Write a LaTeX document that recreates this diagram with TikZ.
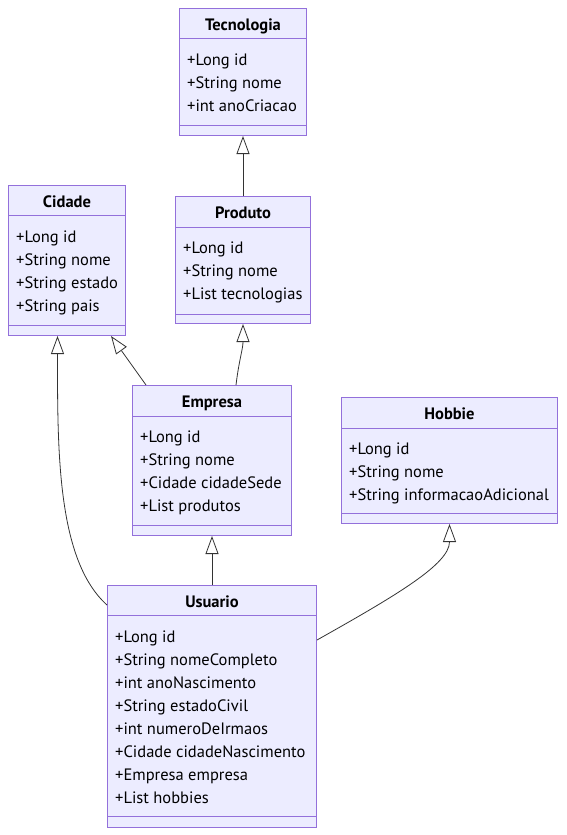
\documentclass[tikz,border=0pt]{standalone}
\usepackage{fontspec}
\setmainfont{PT Sans}
\usetikzlibrary{arrows.meta,calc}

\definecolor{umlfill}{HTML}{ECECFF}
\definecolor{umlborder}{HTML}{9370DB}
\definecolor{umlline}{HTML}{333333}

\tikzset{
  classbox/.style={draw=umlborder, fill=umlfill, line width=1pt, anchor=north west, inner sep=0pt},
  divider/.style={draw=umlborder, line width=1pt},
  classtitle/.style={anchor=base, inner sep=0pt, font=\fontsize{16.5}{18}\selectfont\bfseries},
  attr/.style={anchor=base west, inner sep=0pt, font=\fontsize{16.5}{18}\selectfont},
  inherit/.style={draw=umlline, line width=0.8pt, -{Triangle[open, length=18pt, width=13pt, fill=white]}}
}

\begin{document}
\begin{tikzpicture}[x=1pt, y=-1pt]
\useasboundingbox (0,0) rectangle (566,835);

% Tecnologia
\node[classbox, minimum width=127pt, minimum height=127pt] (tecnologia) at (179,8) {};
\draw[divider] ([yshift=-30pt]tecnologia.north west) -- ([yshift=-30pt]tecnologia.north east);
\draw[divider] ([yshift=11pt]tecnologia.south west) -- ([yshift=11pt]tecnologia.south east);
\node[classtitle] (tecnologia-title) at ([yshift=-22.5pt]tecnologia.north) {Tecnologia};
\foreach \a [count=\i] in {+Long id, +String nome, +int anoCriacao}
  \node[attr] (tecnologia-\i) at ([xshift=8pt, yshift=-34.5pt-23pt*\i]tecnologia.north west) {\a};

% Cidade
\node[classbox, minimum width=117pt, minimum height=150pt] (cidade) at (8,185) {};
\draw[divider] ([yshift=-30pt]cidade.north west) -- ([yshift=-30pt]cidade.north east);
\draw[divider] ([yshift=11pt]cidade.south west) -- ([yshift=11pt]cidade.south east);
\node[classtitle] (cidade-title) at ([yshift=-22.5pt]cidade.north) {Cidade};
\foreach \a [count=\i] in {+Long id, +String nome, +String estado, +String pais}
  \node[attr] (cidade-\i) at ([xshift=8pt, yshift=-34.5pt-23pt*\i]cidade.north west) {\a};

% Produto
\node[classbox, minimum width=135pt, minimum height=127pt] (produto) at (175,196) {};
\draw[divider] ([yshift=-31pt]produto.north west) -- ([yshift=-31pt]produto.north east);
\draw[divider] ([yshift=10pt]produto.south west) -- ([yshift=10pt]produto.south east);
\node[classtitle] (produto-title) at ([yshift=-22.5pt]produto.north) {Produto};
\foreach \a [count=\i] in {+Long id, +String nome, +List tecnologias}
  \node[attr] (produto-\i) at ([xshift=8pt, yshift=-34.5pt-23pt*\i]produto.north west) {\a};

% Empresa
\node[classbox, minimum width=159pt, minimum height=150pt] (empresa) at (132,385) {};
\draw[divider] ([yshift=-31pt]empresa.north west) -- ([yshift=-31pt]empresa.north east);
\draw[divider] ([yshift=11pt]empresa.south west) -- ([yshift=11pt]empresa.south east);
\node[classtitle] (empresa-title) at ([yshift=-22.5pt]empresa.north) {Empresa};
\foreach \a [count=\i] in {+Long id, +String nome, +Cidade cidadeSede, +List produtos}
  \node[attr] (empresa-\i) at ([xshift=8pt, yshift=-34.5pt-23pt*\i]empresa.north west) {\a};

% Hobbie
\node[classbox, minimum width=216pt, minimum height=126pt] (hobbie) at (341,397) {};
\draw[divider] ([yshift=-31pt]hobbie.north west) -- ([yshift=-31pt]hobbie.north east);
\draw[divider] ([yshift=11pt]hobbie.south west) -- ([yshift=11pt]hobbie.south east);
\node[classtitle] (hobbie-title) at ([yshift=-22.5pt]hobbie.north) {Hobbie};
\foreach \a [count=\i] in {+Long id, +String nome, +String informacaoAdicional}
  \node[attr] (hobbie-\i) at ([xshift=8pt, yshift=-34.5pt-23pt*\i]hobbie.north west) {\a};

% Usuario
\node[classbox, minimum width=209pt, minimum height=242pt] (usuario) at (107,585) {};
\draw[divider] ([yshift=-30pt]usuario.north west) -- ([yshift=-30pt]usuario.north east);
\draw[divider] ([yshift=12pt]usuario.south west) -- ([yshift=12pt]usuario.south east);
\node[classtitle] (usuario-title) at ([yshift=-22.5pt]usuario.north) {Usuario};
\foreach \a [count=\i] in {+Long id, +String nomeCompleto, +int anoNascimento, +String estadoCivil,
    +int numeroDeIrmaos, +Cidade cidadeNascimento, +Empresa empresa, +List hobbies}
  \node[attr] (usuario-\i) at ([xshift=8pt, yshift=-34.5pt-23pt*\i]usuario.north west) {\a};

% heranca
\draw[inherit] (produto.north) -- (tecnologia.south);
\draw[inherit] ([xshift=14pt]empresa.north west) -- ([xshift=-15pt]cidade.south east);
\draw[inherit] ([xshift=24pt]empresa.north) .. controls +(3,-25) and +(0,25) .. (produto.south);
\draw[inherit] (usuario.north) -- (empresa.south);
\draw[inherit] ([yshift=-20pt]usuario.north west) .. controls +(-50,-45) and +(0,115) .. ([xshift=-9.5pt]cidade.south);
\draw[inherit] ([yshift=-55pt]usuario.north east) .. controls +(80,-45) and +(0,40) .. (hobbie.south);
\end{tikzpicture}
\end{document}
